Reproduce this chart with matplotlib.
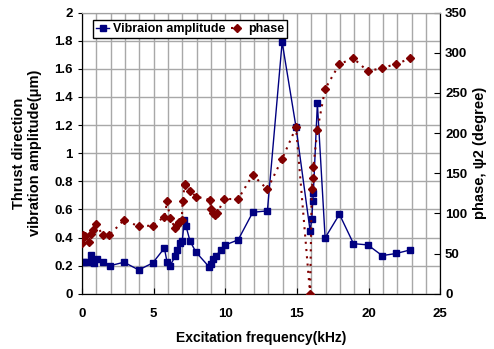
import matplotlib
matplotlib.use("Agg")
import matplotlib.pyplot as plt
from matplotlib.ticker import MultipleLocator

# 振動振幅 (μm)
amp_freq = [0, 0.15, 0.4, 0.63, 0.75, 0.86, 1.02, 1.44, 1.96, 2.93, 3.96,
            4.94, 5.75, 5.94, 6.15, 6.52, 6.66, 6.84, 7.0, 7.14, 7.25, 7.54,
            7.96, 8.89, 9.03, 9.17, 9.36, 9.69, 9.96, 10.9, 11.92, 12.94,
            13.97, 14.94, 15.92, 16.04, 16.11, 16.15, 16.43, 16.97, 17.97,
            18.95, 19.95, 20.95, 21.93, 22.93]
amplitude = [0.23, 0.23, 0.225, 0.277, 0.23, 0.22, 0.245, 0.225, 0.20, 0.225,
             0.17, 0.22, 0.325, 0.225, 0.20, 0.27, 0.31, 0.36, 0.377, 0.526,
             0.485, 0.375, 0.296, 0.19, 0.213, 0.246, 0.27, 0.313, 0.346,
             0.384, 0.58, 0.59, 1.79, 1.185, 0.45, 0.53, 0.66, 0.72, 1.355,
             0.398, 0.566, 0.357, 0.348, 0.272, 0.287, 0.313]

# 位相 (degree)
phase_freq = [0, 0, 0.05, 0.23, 0.47, 0.63, 0.75, 0.98, 1.44, 1.91, 2.93,
              3.96, 4.94, 5.75, 5.94, 6.15, 6.5, 6.6, 6.8, 6.96, 7.03, 7.17,
              7.22, 7.54, 7.96, 8.94, 9.01, 9.17, 9.3, 9.45, 9.94, 10.9,
              11.92, 12.94, 13.97, 14.94, 15.92, 16.04, 16.11, 16.15, 16.43,
              16.97, 17.97, 18.95, 19.95, 20.95, 21.93, 22.93]
phase = [63, 70, 73, 72, 65, 75, 79, 87, 73, 73, 92, 84, 85, 96, 115, 94, 82,
         86, 90, 92, 116, 136, 137, 128, 121, 117, 105, 100, 98, 101, 118,
         118, 148, 130, 168, 207, 0, 130, 144, 158, 204, 255, 286, 293, 277,
         281, 286, 293]

plt.rcParams["font.family"] = ["Liberation Sans", "DejaVu Sans"]
plt.rcParams["font.weight"] = "bold"

fig = plt.figure(figsize=(4.94, 3.49), dpi=100)
ax = fig.add_axes([0.166, 0.158, 0.725, 0.806])
ax2 = ax.twinx()

ax.set_xlim(0, 25)
ax.set_ylim(0, 2)
ax2.set_ylim(0, 350)
ax.xaxis.set_major_locator(MultipleLocator(5))
ax.xaxis.set_minor_locator(MultipleLocator(1))
ax.yaxis.set_major_locator(MultipleLocator(0.2))
ax2.yaxis.set_major_locator(MultipleLocator(50))
ax.grid(True, which="both", axis="x", color="#a8a8a8", lw=1)
ax.grid(True, which="major", axis="y", color="#a8a8a8", lw=1)
ax.set_axisbelow(True)
ax.tick_params(axis="x", which="minor", length=0)
ax.tick_params(axis="x", which="major", direction="in", length=4, pad=10)
ax.tick_params(axis="y", direction="out", length=3)
ax2.tick_params(axis="y", direction="in", length=4)
ax.tick_params(labelsize=9.5)
ax2.tick_params(labelsize=9.5)
ax.set_yticklabels([f"{v:g}" for v in ax.get_yticks()])
for a in (ax, ax2):
    a.spines["top"].set_color("#a0a0a0")

l1, = ax.plot(amp_freq, amplitude, color="#000080", lw=1, marker="s",
              ms=5, label="Vibraion amplitude", zorder=3)
l2, = ax2.plot(phase_freq, phase, color="#800000", lw=1.5,
               linestyle=(0, (1, 2.5)), marker="D", ms=4.2,
               label="phase", zorder=3)

ax.set_xlabel("Excitation frequency(kHz)", fontsize=10, fontweight="bold",
              labelpad=8)
ax.set_ylabel("Thrust direction\nvibration amplitude(\u03bcm)",
              fontsize=10.5, fontweight="bold", labelpad=9)
ax2.set_ylabel("phase, \u03c82 (degree)", fontsize=10.5, fontweight="bold")

leg = ax2.legend(handles=[l1, l2], loc="upper left",
                 bbox_to_anchor=(0.012, 0.995), ncol=2, fontsize=9,
                 frameon=True, fancybox=False, framealpha=1,
                 edgecolor="black", borderpad=0.25, handlelength=1.1,
                 columnspacing=0.4, handletextpad=0.3)
leg.get_frame().set_linewidth(1)

fig.savefig("out.png", dpi=100)
